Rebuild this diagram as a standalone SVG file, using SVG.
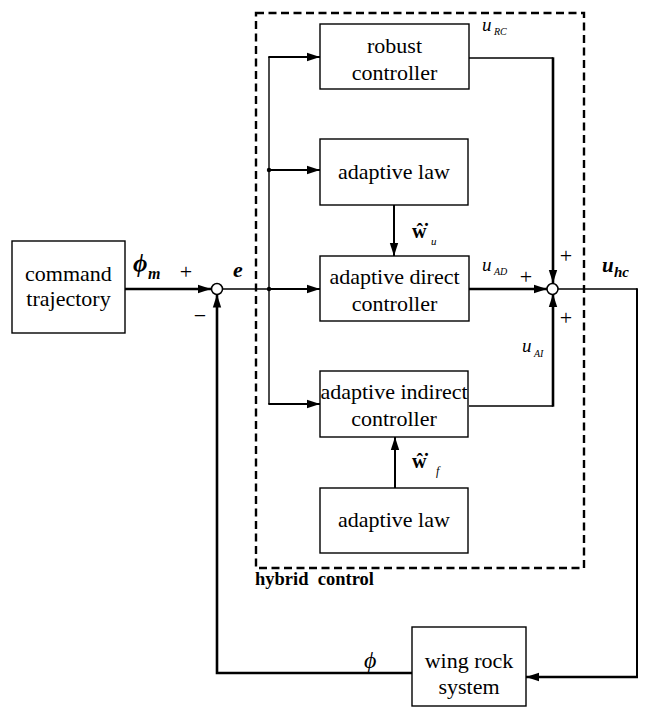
<svg xmlns="http://www.w3.org/2000/svg" width="648" height="716" viewBox="0 0 648 716">
<defs>
<marker id="ah" markerUnits="userSpaceOnUse" markerWidth="14" markerHeight="10" refX="13" refY="5" orient="auto">
<path d="M0,0.8 L13,5 L0,9.2 Z" fill="#000"/>
</marker>
</defs>
<style>
.box{fill:#fff;stroke:#000;stroke-width:1.4}
.thin{fill:none;stroke:#000;stroke-width:1.4}
.thick{fill:none;stroke:#000;stroke-width:2.6}
.mid{fill:none;stroke:#000;stroke-width:2}
.sum{fill:#fff;stroke:#000;stroke-width:1.5}
text{font-family:'Liberation Serif','Times New Roman','DejaVu Serif',serif;fill:#000}
</style>
<rect x="256" y="13" width="328" height="555" fill="none" stroke="#000" stroke-width="2.4" stroke-dasharray="8,4.5"/>
<text x="255" y="585" font-weight="bold" font-size="18.5" xml:space="preserve">hybrid  control</text>
<g id="connectors">
<path class="thick" d="M125,289 L211,289" marker-end="url(#ah)"/>
<path class="thin" d="M222.5,289 L270,289"/>
<path class="mid" d="M269,289 L320,289" marker-end="url(#ah)"/>
<path class="thin" d="M269,57 L269,404"/>
<path class="mid" d="M268.3,57 L320,57" marker-end="url(#ah)"/>
<path class="mid" d="M269,170 L320,170" marker-end="url(#ah)"/>
<path class="mid" d="M268.3,404 L320,404" marker-end="url(#ah)"/>
<circle cx="269" cy="289" r="2.2" fill="#000"/>
<circle cx="269" cy="170" r="2.2" fill="#000"/>
<path class="mid" d="M394,205 L394,256" marker-end="url(#ah)"/>
<path class="mid" d="M395,488 L395,437" marker-end="url(#ah)"/>
<path class="thin" d="M469,58 L553,58"/>
<path class="thick" d="M553,57.3 L553,283" marker-end="url(#ah)"/>
<path class="thick" d="M469,289 L547,289" marker-end="url(#ah)"/>
<path class="thin" d="M469,406 L553,406"/>
<path class="thick" d="M553,406.7 L553,294" marker-end="url(#ah)"/>
<path class="thin" d="M557.5,289 L637,289"/>
<path class="mid" d="M637,288.3 L637,677"/>
<path class="thick" d="M638,677 L526,677" marker-end="url(#ah)"/>
<path class="thick" d="M412,673 L217,673 L217,294.5" marker-end="url(#ah)"/>
</g>
<g id="sum1"><circle class="sum" cx="217" cy="289" r="5.5"/></g>
<g id="sum2"><circle class="sum" cx="552.5" cy="289" r="5.5"/></g>
<g font-size="22" text-anchor="middle">
<g id="command"><rect class="box" x="12" y="241" width="113" height="92"/>
<text x="68.5" y="281">command</text><text x="68.5" y="306">trajectory</text></g>
<g id="robust"><rect class="box" x="320" y="24" width="149" height="65"/>
<text x="394.5" y="53">robust</text><text x="394.5" y="80">controller</text></g>
<g id="law1"><rect class="box" x="320" y="139" width="148" height="66"/>
<text x="394" y="179">adaptive law</text></g>
<g id="direct"><rect class="box" x="320" y="256" width="149" height="65"/>
<text x="394.5" y="284">adaptive direct</text><text x="394.5" y="311">controller</text></g>
<g id="indirect"><rect class="box" x="320" y="371" width="148" height="66"/>
<text x="394" y="399">adaptive indirect</text><text x="394" y="426">controller</text></g>
<g id="law2"><rect class="box" x="320" y="488" width="148" height="65"/>
<text x="394" y="527">adaptive law</text></g>
<g id="wingrock"><rect class="box" x="412" y="627" width="114" height="79"/>
<text x="469" y="668">wing rock</text><text x="469" y="694">system</text></g>
</g>
<g id="labels">
<text x="133" y="272" font-size="25" font-weight="bold" font-style="italic">ϕ</text>
<text x="148" y="279" font-size="16" font-weight="bold" font-style="italic">m</text>
<text x="186" y="279" font-size="22" text-anchor="middle">+</text>
<text x="200" y="323" font-size="22" text-anchor="middle">−</text>
<text x="233" y="277" font-size="22" font-weight="bold" font-style="italic">e</text>
<text x="482" y="31" font-size="19" font-style="italic">u</text>
<text x="494" y="35" font-size="10" font-style="italic">RC</text>
<text x="412" y="238" font-size="20" font-weight="bold">ŵ̇</text>
<text x="431" y="245" font-size="11" font-style="italic">u</text>
<text x="482" y="271" font-size="19" font-style="italic">u</text>
<text x="494" y="275" font-size="10" font-style="italic">AD</text>
<text x="526" y="284" font-size="22" text-anchor="middle">+</text>
<text x="566" y="263" font-size="22" text-anchor="middle">+</text>
<text x="566" y="325" font-size="22" text-anchor="middle">+</text>
<text x="602" y="272" font-size="21" font-weight="bold" font-style="italic">u</text>
<text x="614" y="277" font-size="15" font-weight="bold" font-style="italic">hc</text>
<text x="522" y="352" font-size="19" font-style="italic">u</text>
<text x="534" y="357" font-size="10" font-style="italic">AI</text>
<text x="412" y="468" font-size="20" font-weight="bold">ŵ̇</text>
<text x="436" y="475" font-size="12" font-style="italic">f</text>
<text x="364" y="668" font-size="24" font-style="italic">ϕ</text>
</g>
</svg>
